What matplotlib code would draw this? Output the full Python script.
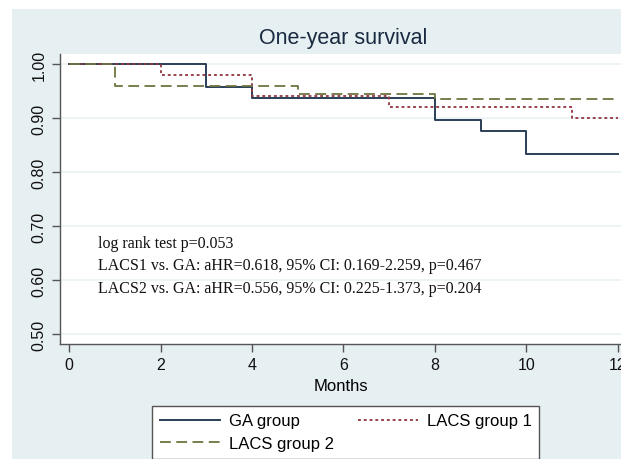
import matplotlib
matplotlib.use("Agg")
import matplotlib.pyplot as plt
from matplotlib.patches import Rectangle

# Kaplan-Meier step data (time, survival)
ga_t = [0, 3, 4, 8, 9, 10, 12]
ga_s = [1.0, 0.958, 0.9375, 0.896, 0.875, 0.833, 0.833]
lacs1_t = [0, 2, 4, 7, 11, 12]
lacs1_s = [1.0, 0.98, 0.94, 0.92, 0.90, 0.90]
lacs2_t = [0, 1, 5, 8, 12]
lacs2_s = [1.0, 0.96, 0.944, 0.935, 0.935]

x_ticks = [0, 2, 4, 6, 8, 10, 12]
y_ticks = [0.50, 0.60, 0.70, 0.80, 0.90, 1.00]

title = "One-year survival"
xlabel = "Months"
annot = ["log rank test p=0.053",
         "LACS1 vs. GA: aHR=0.618, 95% CI: 0.169-2.259, p=0.467",
         "LACS2 vs. GA: aHR=0.556, 95% CI: 0.225-1.373, p=0.204"]

W, H = 621, 460
fig = plt.figure(figsize=(W / 100, H / 100), dpi=100, facecolor="white")
bg = "#e6eff2"
fig.patches.append(Rectangle((12 / W, 0), 1 - 12 / W, 1 - 10 / H,
                             transform=fig.transFigure, facecolor=bg,
                             edgecolor="none", zorder=-10))

ax = fig.add_axes([60 / W, 1 - 345 / H, 1 - 60 / W, (345 - 55) / H])
ax.set_zorder(1)
ax.set_facecolor("white")
ax.set_xlim(-0.197, 12.066)
ax.set_ylim(0.4815, 1.0185)

for y in y_ticks:
    ax.axhline(y, color="#eaf2f3", lw=1.2, zorder=1)

l_ga, = ax.step(ga_t, ga_s, where="post", color="#2a3e56", lw=1.4, zorder=3)
l_1, = ax.step(lacs1_t, lacs1_s, where="post", color="#923540", lw=1.3,
               linestyle=(0, (1.6, 1.6)), zorder=3)
l_2, = ax.step(lacs2_t, lacs2_s, where="post", color="#6f7440", lw=1.3,
               linestyle=(0, (6, 3)), zorder=3)

ax.spines["top"].set_visible(False)
ax.spines["right"].set_visible(False)
for s in ("left", "bottom"):
    ax.spines[s].set_color("#555555")
    ax.spines[s].set_linewidth(1.0)

ax.set_xticks(x_ticks)
ax.set_yticks(y_ticks)
ax.set_yticklabels([f"{v:.2f}" for v in y_ticks], rotation=90, va="center")
ax.tick_params(axis="both", colors="#555555", labelcolor="#111111",
               labelsize=11.5, length=6, width=1.0)
for lab in ax.get_xticklabels() + ax.get_yticklabels():
    lab.set_family("Liberation Sans")

ax.set_title(title, fontsize=15.5, family="Liberation Sans", color="#1a2a40",
             pad=8, x=(343 - 60) / (W - 60))
ax.set_xlabel(xlabel, fontsize=12, family="Liberation Sans", labelpad=4)

for i, line in enumerate(annot):
    ax.text(0.63, 0.668 - i * 0.041, line, fontsize=11.5,
            family="Liberation Serif", va="center", ha="left", color="#111111")

leg = fig.legend([l_ga, l_2, l_1], ["GA group", "LACS group 2", "LACS group 1"],
                 ncol=2, loc="upper left",
                 bbox_to_anchor=(152 / W, 1 - 407 / H),
                 frameon=True, fancybox=False, framealpha=1,
                 facecolor="white",
                 prop={"family": "Liberation Sans", "size": 12},
                 handlelength=3.6, handletextpad=0.55, columnspacing=1.45,
                 borderpad=0.45, labelspacing=0.45, borderaxespad=0)
leg.set_zorder(5)
leg.get_frame().set_edgecolor("#555555")
leg.get_frame().set_linewidth(1.0)

fig.savefig("out.png", dpi=100, facecolor="white")
